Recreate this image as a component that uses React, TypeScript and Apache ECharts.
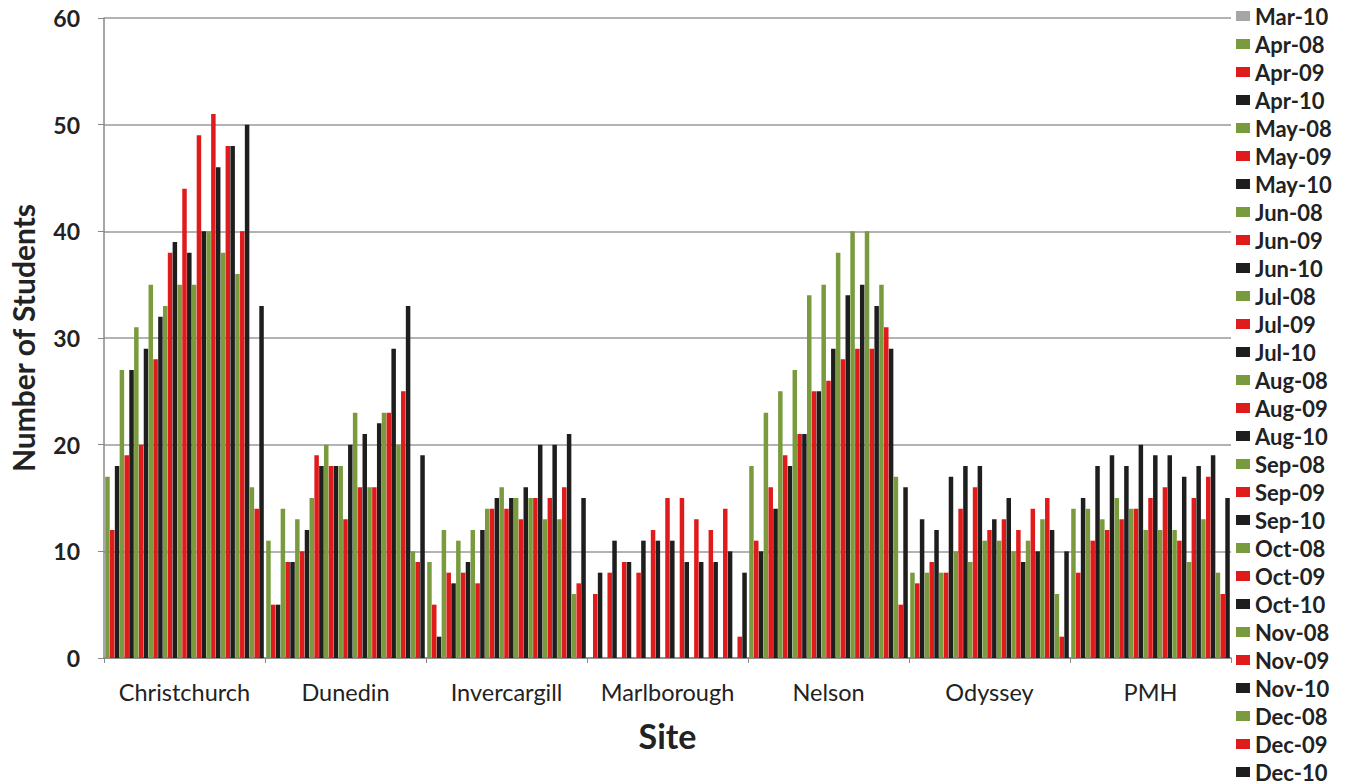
import React, { useEffect, useRef } from 'react';
import * as echarts from 'echarts';

const sites = ['Christchurch', 'Dunedin', 'Invercargill', 'Marlborough', 'Nelson', 'Odyssey', 'PMH'];

// Series in plotting order (the legend in the picture only shows from Mar-10 onwards)
const seriesNames = [
  'Feb-08', 'Feb-09', 'Feb-10',
  'Mar-08', 'Mar-09', 'Mar-10',
  'Apr-08', 'Apr-09', 'Apr-10',
  'May-08', 'May-09', 'May-10',
  'Jun-08', 'Jun-09', 'Jun-10',
  'Jul-08', 'Jul-09', 'Jul-10',
  'Aug-08', 'Aug-09', 'Aug-10',
  'Sep-08', 'Sep-09', 'Sep-10',
  'Oct-08', 'Oct-09', 'Oct-10',
  'Nov-08', 'Nov-09', 'Nov-10',
  'Dec-08', 'Dec-09', 'Dec-10',
];

const legendNames = seriesNames.slice(5);

// Values per site, in the series order above
const christchurch = [17, 12, 18, 27, 19, 27, 31, 20, 29, 35, 28, 32, 33, 38, 39, 35, 44, 38, 35, 49, 40, 40, 51, 46, 38, 48, 48, 36, 40, 50, 16, 14, 33];
const dunedin = [11, 5, 5, 14, 9, 9, 13, 10, 12, 15, 19, 18, 20, 18, 18, 18, 13, 20, 23, 16, 21, 16, 16, 22, 23, 23, 29, 20, 25, 33, 10, 9, 19];
const invercargill = [9, 5, 2, 12, 8, 7, 11, 8, 9, 12, 7, 12, 14, 14, 15, 16, 14, 15, 15, 13, 16, 15, 15, 20, 13, 15, 20, 13, 16, 21, 6, 7, 15];
const marlborough = [null, 6, 8, null, 8, 11, null, 9, 9, null, 8, 11, null, 12, 11, null, 15, 11, null, 15, 9, null, 13, 9, null, 12, 9, null, 14, 10, null, 2, 8];
const nelson = [18, 11, 10, 23, 16, 14, 25, 19, 18, 27, 21, 21, 34, 25, 25, 35, 26, 29, 38, 28, 34, 40, 29, 35, 40, 29, 33, 35, 31, 29, 17, 5, 16];
const odyssey = [8, 7, 13, 8, 9, 12, 8, 8, 17, 10, 14, 18, 9, 16, 18, 11, 12, 13, 11, 13, 15, 10, 12, 9, 11, 14, 10, 13, 15, 12, 6, 2, 10];
const pmh = [14, 8, 15, 14, 11, 18, 13, 12, 19, 15, 13, 18, 14, 14, 20, 12, 15, 19, 12, 16, 19, 12, 11, 17, 9, 15, 18, 13, 17, 19, 8, 6, 15];

const siteValues = [christchurch, dunedin, invercargill, marlborough, nelson, odyssey, pmh];

const GREEN = '#7a9a3e';
const RED = '#e01b1b';
const BLACK = '#1e1e1e';
const yearColors = [GREEN, RED, BLACK];

const FONT = 'Lato, "Open Sans", sans-serif';

export default function App() {
  const ref = useRef<HTMLDivElement>(null);

  useEffect(() => {
    if (!ref.current) return;
    const chart = echarts.init(ref.current, undefined, { renderer: 'svg' });

    const series = seriesNames.map((name, k) => ({
      name,
      type: 'bar',
      barWidth: 4.5,
      barGap: '7%',
      itemStyle: { color: yearColors[k % 3] },
      data: siteValues.map((vals) => vals[k]),
    }));

    chart.setOption({
      animation: false,
      textStyle: { fontFamily: FONT },
      grid: { left: 97, right: 121, top: 18, bottom: 126, containLabel: false },
      legend: {
        orient: 'vertical',
        left: 1236,
        top: 5,
        height: 800,
        padding: 0,
        itemWidth: 14,
        itemHeight: 10,
        itemGap: 6,
        icon: 'rect',
        textStyle: { fontFamily: FONT, fontSize: 22, fontWeight: 'bold', color: '#222', lineHeight: 22 },
        data: legendNames.map((n) =>
          n === 'Mar-10' ? { name: n, itemStyle: { color: '#a6a6a6' } } : { name: n }
        ),
      },
      xAxis: {
        type: 'category',
        data: sites,
        name: 'Site',
        nameLocation: 'middle',
        nameGap: 60,
        nameTextStyle: { fontFamily: FONT, fontSize: 34, fontWeight: 'bold', color: '#222' },
        axisLine: { lineStyle: { color: '#888', width: 1.5 } },
        axisTick: { show: true, alignWithLabel: false, length: 5, lineStyle: { color: '#888' } },
        axisLabel: { interval: 0, fontFamily: FONT, fontSize: 23.5, color: '#222', margin: 22 },
      },
      yAxis: {
        type: 'value',
        min: 0,
        max: 60,
        interval: 10,
        name: 'Number of Students',
        nameLocation: 'middle',
        nameGap: 66,
        nameRotate: 90,
        nameTextStyle: { fontFamily: FONT, fontSize: 30, fontWeight: 'bold', color: '#222' },
        axisLine: { show: true, lineStyle: { color: '#888', width: 1.5 } },
        axisTick: { show: true, length: 6, lineStyle: { color: '#888' } },
        axisLabel: { fontFamily: FONT, fontSize: 23, fontWeight: 'bold', color: '#222', margin: 24 },
        splitLine: { show: true, lineStyle: { color: '#9a9a9a', width: 1.5 } },
      },
      series,
    });

    return () => chart.dispose();
  }, []);

  return (
    <div
      ref={ref}
      style={{ position: 'absolute', left: 0, top: 0, width: 1352, height: 784, background: '#fff' }}
    />
  );
}
